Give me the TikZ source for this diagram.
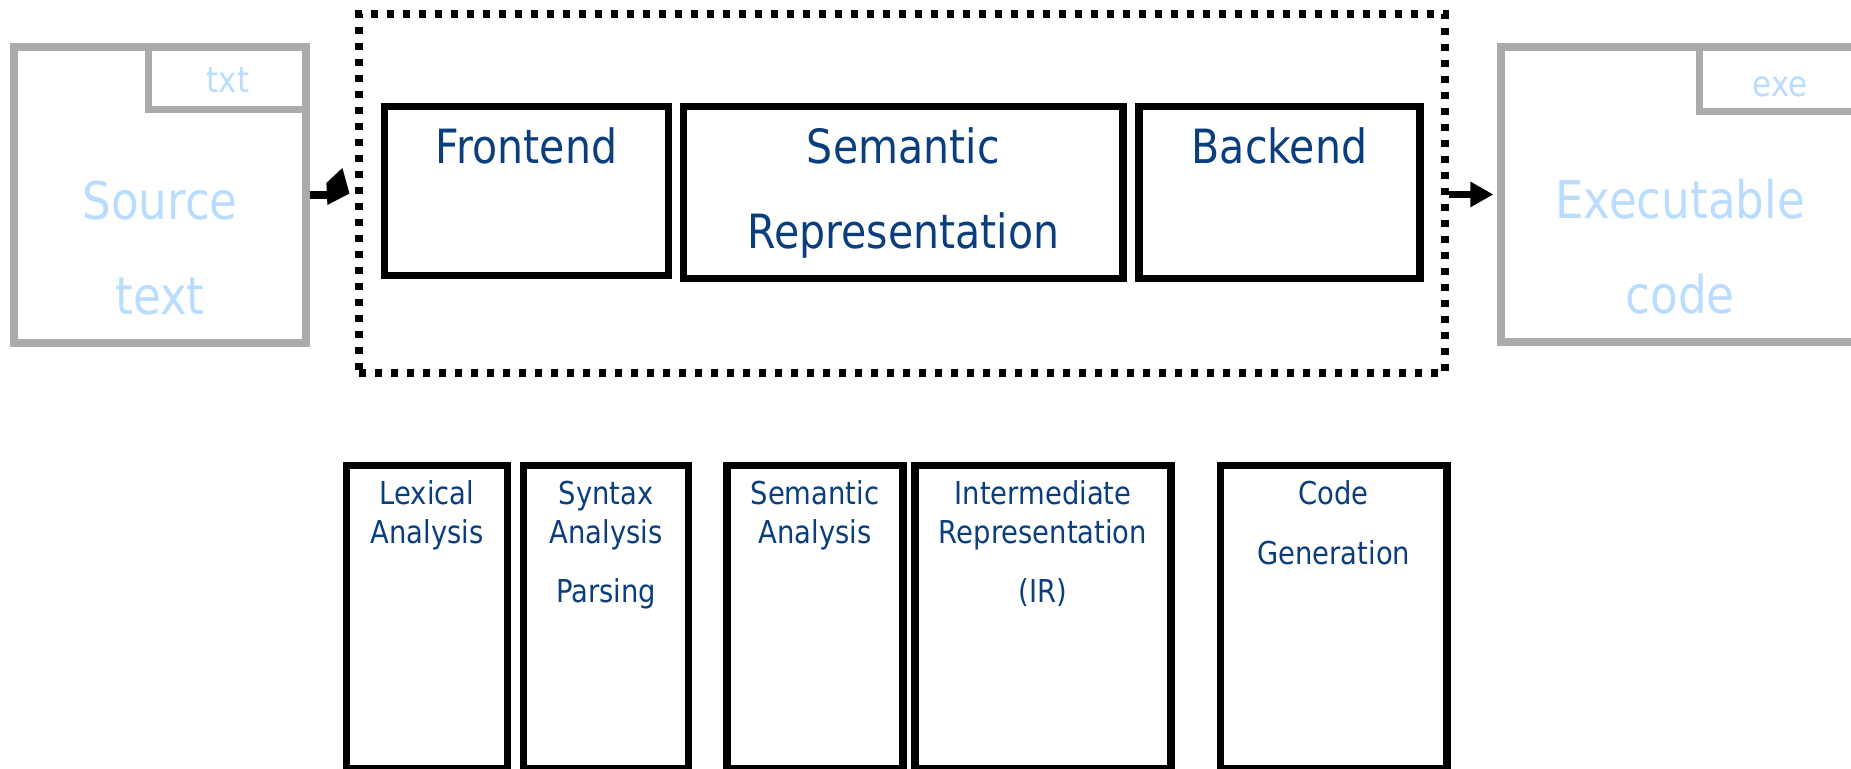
\documentclass[tikz,border=0pt]{standalone}
\usepackage{fontspec}
\usetikzlibrary{arrows.meta}
\newfontfamily\diagfont[FakeStretch=0.87]{DejaVu Sans}
\newcommand\stagefont{\diagfont\fontsize{23.6pt}{42.5pt}\selectfont}
\newcommand\phasefont{\diagfont\fontsize{15.75pt}{19pt}\selectfont}
\newcommand\filefont{\diagfont\fontsize{26pt}{47.5pt}\selectfont}
\newcommand\extfont{\diagfont\fontsize{17.75pt}{20pt}\selectfont}
\newcommand\labelrows[1]{\begin{tabular}[t]{@{}c@{}}#1\end{tabular}}
\begin{document}
\begin{tikzpicture}[x=0.5pt, y=-0.5pt,
  stage/.style={draw=black, line width=3.6pt, inner sep=0pt},
  filebox/.style={draw=FileGrey, line width=3.6pt, inner sep=0pt},
  compilerbox/.style={draw=black, line width=3.6pt, dash pattern=on 3.5pt off 4.5pt, inner sep=0pt},
  link/.style={line width=3.6pt},
  flow/.style={link, shorten >=2pt, -{Triangle[length=11.5pt, width=12pt]}},
  lbl/.style={inner sep=0pt, anchor=base, text=TextBlue},
  filelbl/.style={inner sep=0pt, anchor=base, text=FileBlue}]
\definecolor{TextBlue}{HTML}{0A3E7C}
\definecolor{FileGrey}{HTML}{ABABAB}
\definecolor{FileBlue}{HTML}{B9DCFF}
\useasboundingbox (0,0) rectangle (1851,769);

% input and output files
\node[filebox, minimum width=146pt, minimum height=148pt] (src) at (160,195) {};
\draw[filebox] ([xshift=69pt]src.north west) |- ([yshift=-33pt]src.north east);
\node[filelbl, font=\extfont] (srcext) at (228,93) {txt};
\node[filelbl, font=\filefont] (srcname) at (160,220) {\labelrows{Source\\text}};

\node[filebox, minimum width=177.5pt, minimum height=147.5pt] (exe) at (1678.5,194.5) {};
\draw[filebox] ([xshift=101pt]exe.north west) |- ([yshift=-34pt]exe.north east);
\node[filelbl, font=\extfont] (exeext) at (1780,97) {exe};
\node[filelbl, font=\filefont] (exename) at (1680,219) {\labelrows{Executable\\code}};

% compiler
\node[compilerbox, minimum width=543pt, minimum height=179.5pt] (compiler) at (902,193.5) {};

\node[stage, minimum width=142pt, minimum height=84.5pt] (frontend) at (526.5,191) {};
\node[stage, minimum width=219.75pt, minimum height=86pt] (semrep) at (903.25,192.5) {};
\node[stage, minimum width=140.5pt, minimum height=86pt] (backend) at (1279.5,192.5) {};
\node[lbl, font=\stagefont] (frontendlbl) at (526.5,164) {Frontend};
\node[lbl, font=\stagefont] (semreplbl) at (903.25,164) {\labelrows{Semantic\\Representation}};
\node[lbl, font=\stagefont] (backendlbl) at (1279.5,164) {Backend};

% tilted head on the way in
\draw[link] (src.east) -- ([xshift=-10pt]src.east -| compiler.west);
\fill ([xshift=-3pt]compiler.west) -- ([shift={(-6.5pt,12.75pt)}]compiler.west)
  -- ([shift={(-14.5pt,5.25pt)}]compiler.west)
  -- ([shift={(-14pt,-5.75pt)}]compiler.west) -- cycle;
\draw[flow] (compiler.east |- exe.west) -- (exe.west);

% phases
\node[stage, minimum width=80.5pt, minimum height=151.5pt] (lexical) at (427,617) {};
\node[stage, minimum width=82.5pt, minimum height=151.5pt] (syntax) at (606,617) {};
\node[stage, minimum width=88pt, minimum height=151.5pt] (semana) at (815,617) {};
\node[stage, minimum width=128pt, minimum height=151.5pt] (inter) at (1043,617) {};
\node[stage, minimum width=113.25pt, minimum height=151.5pt] (codegen) at (1333.75,617) {};
\node[lbl, font=\phasefont] (lexicallbl) at (427,505) {\labelrows{Lexical\\Analysis}};
\node[lbl, font=\phasefont] (syntaxlbl) at (606,505) {\labelrows{Syntax\\Analysis\\[10.5pt]Parsing}};
\node[lbl, font=\phasefont] (semanalbl) at (815,505) {\labelrows{Semantic\\Analysis}};
\node[lbl, font=\phasefont] (interlbl) at (1043,505) {\labelrows{Intermediate\\Representation\\[10.5pt](IR)}};
\node[lbl, font=\phasefont] (codegenlbl) at (1333.75,505) {\labelrows{Code\\[10.5pt]Generation}};
\end{tikzpicture}
\end{document}
